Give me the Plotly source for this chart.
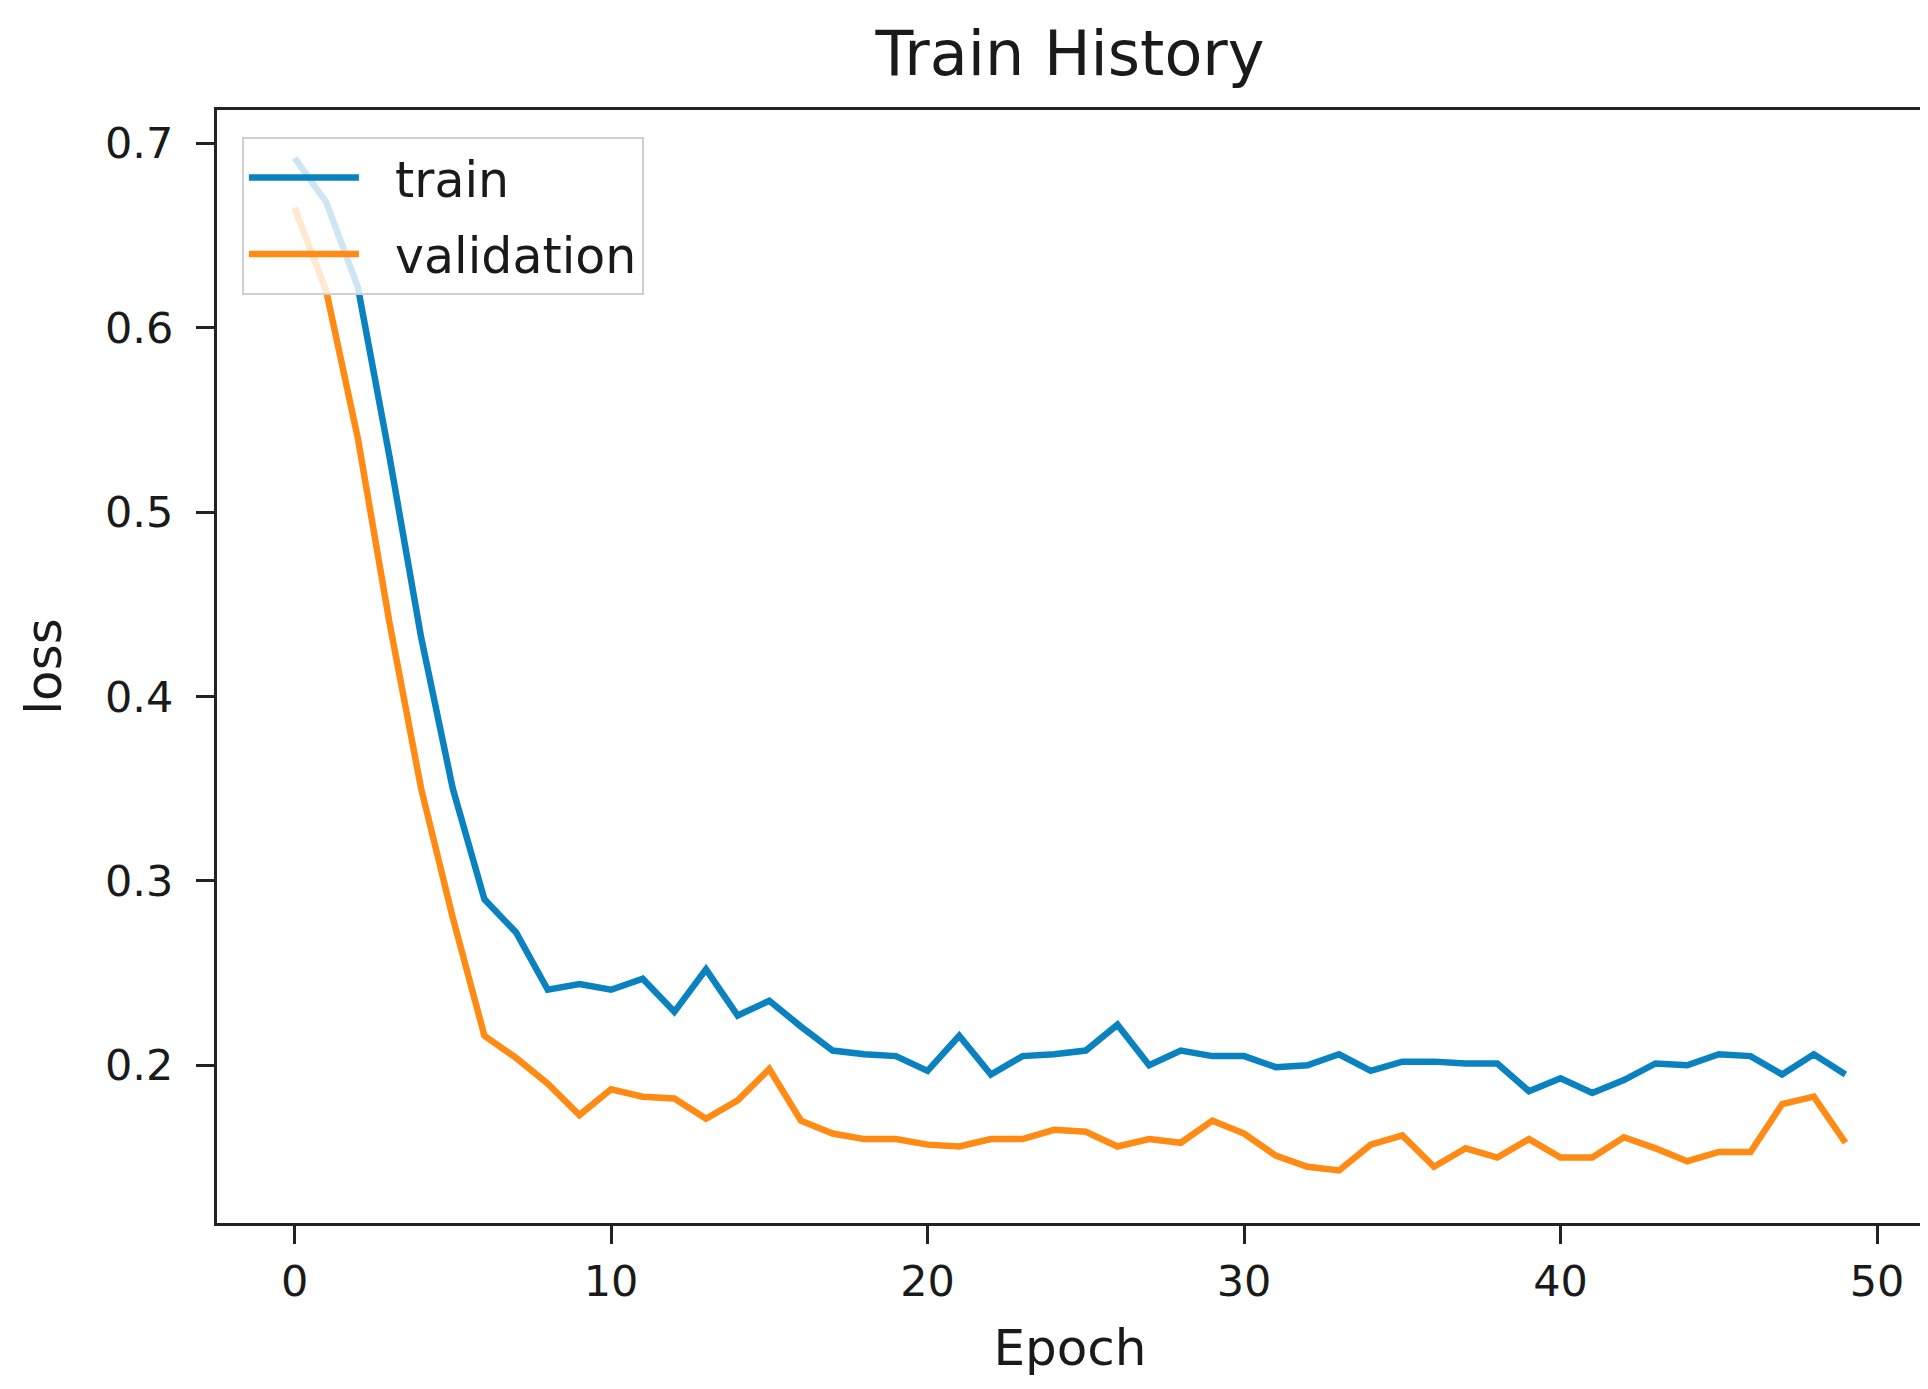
import plotly.graph_objects as go

epochs = list(range(50))
train_loss = [0.692, 0.668, 0.622, 0.530, 0.432, 0.350, 0.290, 0.272, 0.241, 0.244,
              0.241, 0.247, 0.229, 0.252, 0.227, 0.235, 0.221, 0.208, 0.206, 0.205,
              0.197, 0.216, 0.195, 0.205, 0.206, 0.208, 0.222, 0.200, 0.208, 0.205,
              0.205, 0.199, 0.200, 0.206, 0.197, 0.202, 0.202, 0.201, 0.201, 0.186,
              0.193, 0.185, 0.192, 0.201, 0.200, 0.206, 0.205, 0.195, 0.206, 0.195]
val_loss = [0.665, 0.620, 0.540, 0.440, 0.350, 0.280, 0.216, 0.204, 0.190, 0.173,
            0.187, 0.183, 0.182, 0.171, 0.181, 0.198, 0.170, 0.163, 0.160, 0.160,
            0.157, 0.156, 0.160, 0.160, 0.165, 0.164, 0.156, 0.160, 0.158, 0.170,
            0.163, 0.151, 0.145, 0.143, 0.157, 0.162, 0.145, 0.155, 0.150, 0.160,
            0.150, 0.150, 0.161, 0.155, 0.148, 0.153, 0.153, 0.179, 0.183, 0.158]
series_names = ["train", "validation"]
x_ticks = [0, 10, 20, 30, 40, 50]
y_ticks = [0.2, 0.3, 0.4, 0.5, 0.6, 0.7]
y_tick_labels = ["0.2", "0.3", "0.4", "0.5", "0.6", "0.7"]

FONT = "DejaVu Sans"
TXT = "#1a1a1a"
TICK_FS = 43
LABEL_FS = 50
GAP = "\u00a0\u00a0"  # visual gap between legend line sample and its label

fig = go.Figure()
fig.add_trace(go.Scatter(x=epochs, y=train_loss, mode="lines", name=GAP + series_names[0],
                         legendgroup="train",
                         line=dict(color="#0b82c0", width=6.5)))
fig.add_trace(go.Scatter(x=epochs, y=val_loss, mode="lines", name=GAP + series_names[1],
                         legendgroup="validation",
                         line=dict(color="#ff8a14", width=6.5)))

axis_common = dict(showline=True, linecolor="#222", linewidth=3, mirror=True,
                   ticks="outside", ticklen=18, tickwidth=3, tickcolor="#222",
                   showgrid=False, zeroline=False,
                   tickfont=dict(family=FONT, size=TICK_FS, color=TXT))

fig.update_xaxes(range=[-2.45, 51.45], tickvals=x_ticks, ticklabelstandoff=0,
                 title=dict(text="Epoch", font=dict(family=FONT, size=LABEL_FS, color=TXT), standoff=26),
                 **axis_common)
fig.update_yaxes(range=[0.1145, 0.718], tickvals=y_ticks, ticktext=y_tick_labels,
                 ticklabelstandoff=14,
                 title=dict(text="loss", font=dict(family=FONT, size=LABEL_FS, color=TXT), standoff=28),
                 **axis_common)

fig.update_layout(
    width=1928, height=1389,
    margin=dict(l=209, r=10, t=102, b=174),
    paper_bgcolor="white", plot_bgcolor="white",
    title=dict(text="Train History", x=0.5, xref="paper", y=1 - 45 / 1389,
               yref="container", yanchor="middle", xanchor="center",
               font=dict(family=FONT, size=62, color=TXT)),
    legend=dict(x=0.0146, y=0.9757, xanchor="left", yanchor="top",
                bgcolor="rgba(255,255,255,0.8)", bordercolor="#d0d0d0", borderwidth=2,
                itemwidth=110, tracegroupgap=10,
                font=dict(family=FONT, size=49, color=TXT)),
    showlegend=True,
)

fig.write_html("out.html")
